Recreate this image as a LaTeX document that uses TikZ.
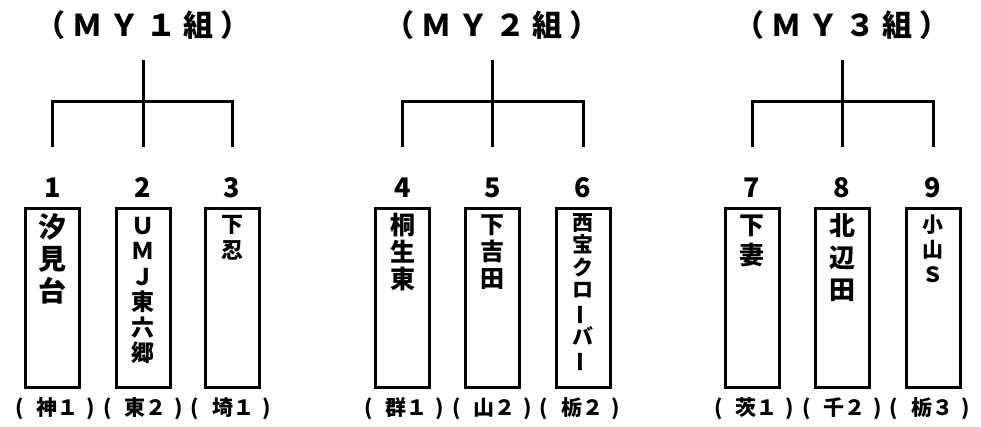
\documentclass[tikz,border=0pt]{standalone}
\usepackage{fontspec}
\setmainfont{Noto Sans CJK JP}
\usetikzlibrary{positioning}
\newcommand\pref[1]{(\kern13pt#1\kern8pt)}
\newcommand\vbar{\rotatebox[origin=c]{90}{ー}}
\newcommand\gap{\kern7pt}

\begin{document}
\begin{tikzpicture}[x=1pt,y=-1pt,
				box/.style={draw,line width=3pt,minimum width=54pt,minimum height=179pt,inner sep=0pt},
				num/.style={font=\bfseries\fontsize{27}{27}\selectfont,inner sep=0pt},
				kumi/.style={font=\bfseries\fontsize{30}{30}\selectfont,inner sep=0pt},
				ken/.style={font=\bfseries\fontsize{21}{21}\selectfont,inner sep=0pt},
				team/.style={anchor=north,align=center,inner sep=0pt,font=\bfseries},
				wire/.style={line width=3pt}]
				\useasboundingbox (0,0) rectangle (981,427);
				% group titles
				\node[kumi] (G1) at (143,25) {（\gap Ｍ\gap Ｙ\gap １\gap 組\gap ）};
				\node[kumi] (G2) at (492,25) {（\gap Ｍ\gap Ｙ\gap ２\gap 組\gap ）};
				\node[kumi] (G3) at (842,25) {（\gap Ｍ\gap Ｙ\gap ３\gap 組\gap ）};
				% boxes
				\node[box] (B1) at (52.5,298)  {};
				\node[box] (B2) at (143,298)   {};
				\node[box] (B3) at (232,298)   {};
				\node[box] (B4) at (402.5,298) {};
				\node[box] (B5) at (492.5,298) {};
				\node[box] (B6) at (583,298)   {};
				\node[box] (B7) at (752,298)   {};
				\node[box] (B8) at (842,298)   {};
				\node[box] (B9) at (933,298)   {};
				% numbers
				\node[num] (N1) at (52.5,188)  {1};
				\node[num] (N2) at (143,188)   {2};
				\node[num] (N3) at (232,188)   {3};
				\node[num] (N4) at (402.5,188) {4};
				\node[num] (N5) at (492.5,188) {5};
				\node[num] (N6) at (583,188)   {6};
				\node[num] (N7) at (752,188)   {7};
				\node[num] (N8) at (842,188)   {8};
				\node[num] (N9) at (933,188)   {9};
				% team names
				\node[team,font=\bfseries\fontsize{28}{32}\selectfont] (S1) at ([yshift=-6pt]B1.north) {汐\\見\\台};
				\node[team,font=\bfseries\fontsize{23}{25.5}\selectfont] (S2) at ([yshift=-10pt]B2.north) {Ｕ\\Ｍ\\Ｊ\\東\\六\\郷};
				\node[team,font=\bfseries\fontsize{22}{26}\selectfont] (S3) at ([yshift=-8pt]B3.north) {下\\忍};
				\node[team,font=\bfseries\fontsize{25}{27}\selectfont] (S4) at ([yshift=-6pt]B4.north) {桐\\生\\東};
				\node[team,font=\bfseries\fontsize{24}{27}\selectfont] (S5) at ([yshift=-8pt]B5.north) {下\\吉\\田};
				\node[team,font=\bfseries\fontsize{21}{22.5}\selectfont] (S6) at ([yshift=-6pt]B6.north) {西\\宝\\ク\\ロ\\\vbar\\バ\\\vbar};
				\node[team,font=\bfseries\fontsize{25}{30}\selectfont] (S7) at ([yshift=-8pt]B7.north) {下\\妻};
				\node[team,font=\bfseries\fontsize{26}{32}\selectfont] (S8) at ([yshift=-6pt]B8.north) {北\\辺\\田};
				\node[team,font=\bfseries\fontsize{21}{25}\selectfont] (S9) at ([yshift=-8pt]B9.north) {小\\山\\Ｓ};
				% prefectures
				\node[ken] (P1) at (143,409) {\pref{神１}\kern8pt\pref{東２}\kern8pt\pref{埼１}};
				\node[ken] (P2) at (492,409) {\pref{群１}\kern8pt\pref{山２}\kern8pt\pref{栃２}};
				\node[ken] (P3) at (842,409) {\pref{茨１}\kern8pt\pref{千２}\kern8pt\pref{栃３}};
				% brackets
				\coordinate (T1) at (143,60);  \coordinate (J1) at (143,102);
				\coordinate (T2) at (492.5,60); \coordinate (J2) at (492.5,102);
				\coordinate (T3) at (842,60);  \coordinate (J3) at (842,102);
				\coordinate (D1) at (52.5,147);  \coordinate (D2) at (143,147);   \coordinate (D3) at (232,147);
				\coordinate (D4) at (402.5,147); \coordinate (D5) at (492.5,147); \coordinate (D6) at (583,147);
				\coordinate (D7) at (752,147);   \coordinate (D8) at (842,147);   \coordinate (D9) at (933,147);
				\draw[wire] (T1) -- (D2) (D1) |- (J1) -| (D3);
				\draw[wire] (T2) -- (D5) (D4) |- (J2) -| (D6);
				\draw[wire] (T3) -- (D8) (D7) |- (J3) -| (D9);
			\end{tikzpicture}
\end{document}
